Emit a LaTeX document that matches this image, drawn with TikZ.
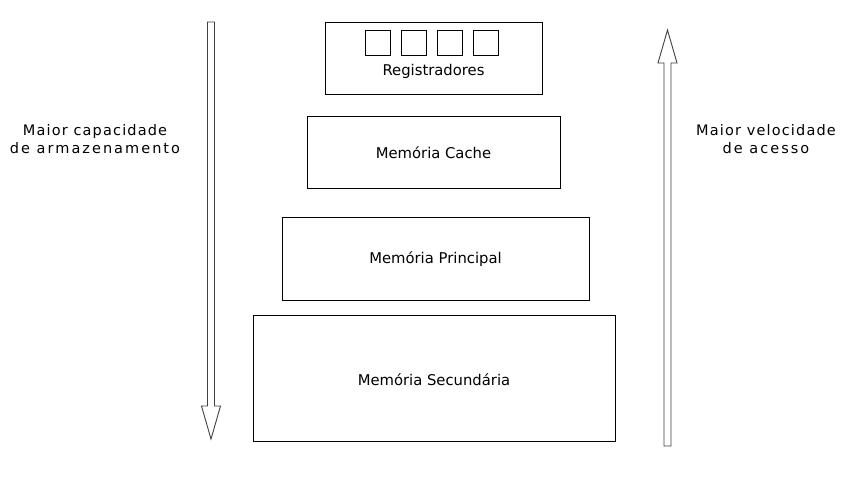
\documentclass[tikz,border=0pt]{standalone}
\usepackage{fontspec}
\setmainfont{DejaVu Sans}
\newfontfamily\spaced[LetterSpace=8]{DejaVu Sans}
\newfontfamily\wider[LetterSpace=14]{DejaVu Sans}
\begin{document}
\begin{tikzpicture}[x=1pt,y=-1pt,
  level/.style={draw=black,line width=0.9pt,minimum width=#1,anchor=north west,inner sep=0pt},
  reg/.style={draw=black,line width=0.8pt,minimum width=25pt,minimum height=25pt,inner sep=0pt,anchor=north west},
  lbl/.style={font=\fontsize{14.8}{17}\selectfont},
  side/.style={font=\spaced\fontsize{14.5}{18}\selectfont,align=center},
  bigarrow/.style={draw=black!75,line width=0.9pt,fill=white}]
\useasboundingbox (0,0) rectangle (856,480);
% boxes
\node[level=217pt,minimum height=72pt] (reg) at (325,22) {};
\node[level=253pt,minimum height=72pt] (cache) at (307,116) {};
\node[level=307pt,minimum height=83pt] (main) at (282,217) {};
\node[level=362pt,minimum height=126pt] (sec) at (253,315) {};
% register squares
\node[reg] (r1) at (365,30) {};
\node[reg] (r2) at (401,30) {};
\node[reg] (r3) at (437,30) {};
\node[reg] (r4) at (473,30) {};
% labels
\node[lbl] (treg) at (433.5,71) {Registradores};
\node[lbl] (tcache) at (433.5,153) {Memória Cache};
\node[lbl] (tmain) at (435.5,259.5) {Memória Principal};
\node[lbl] (tsec) at (434,379.5) {Memória Secundária};
\node[side] (lcap) at (95,139) {Maior capacidade\\{\wider de armazenamento}};
\node[side] (rvel) at (766,139) {Maior velocidade\\{\wider de acesso}};
% arrows
\draw[bigarrow] (207.5,22) -- (214.5,22) -- (214.5,406) -- (220.5,406) -- (211,439) -- (201.5,406) -- (207.5,406) -- cycle;
\draw[bigarrow] (664,446) -- (671,446) -- (671,63) -- (677,63) -- (667.5,30) -- (658,63) -- (664,63) -- cycle;
\end{tikzpicture}
\end{document}
